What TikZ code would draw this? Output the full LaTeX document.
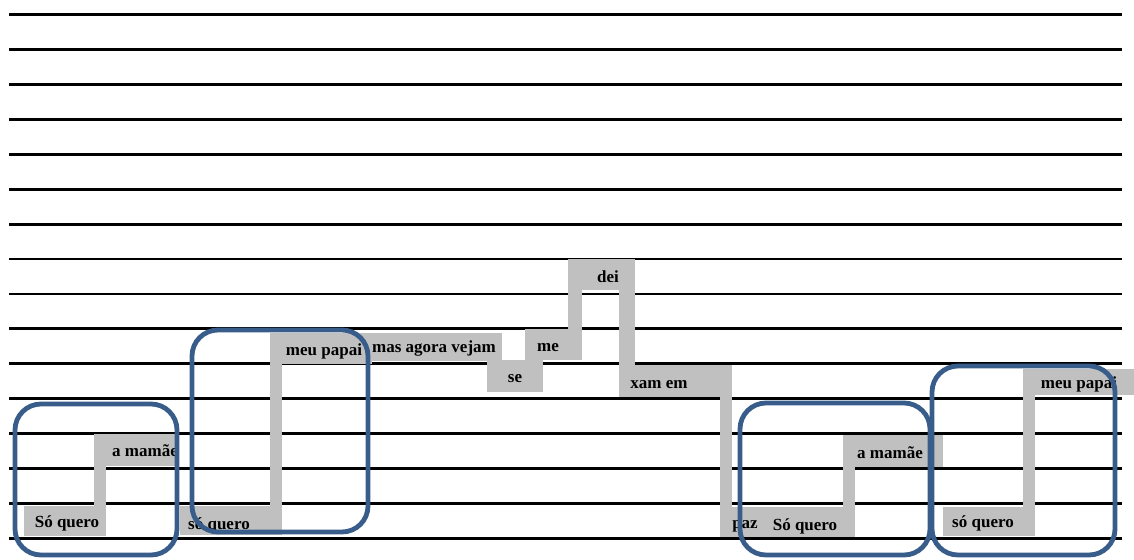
\documentclass[tikz,border=0pt]{standalone}
\usepackage{fontspec}
\setmainfont{Liberation Serif}
\usetikzlibrary{positioning}
\definecolor{bandgray}{RGB}{192,192,192}
\definecolor{frameblue}{RGB}{56,93,138}

\begin{document}
\begin{tikzpicture}[
  x=1pt, y=-1pt,
  staff/.style={line width=2.8pt, black},
  band/.style={fill=bandgray},
  word/.style={font=\fontsize{17}{19}\selectfont\bfseries, inner sep=0pt, anchor=base},
  frame/.style={draw=frameblue, line width=4.8pt, rounded corners=26pt}
]
\useasboundingbox (0,0) rectangle (1134,559);

% staff lines
\foreach \k in {0,...,15}
  \draw[staff] (9,{14.7+34.9*\k}) -- (1122,{14.7+34.9*\k});

% grey melody band
\fill[band] (24,506) rectangle (106,536);
\fill[band] (94,434) rectangle (106,506);
\fill[band] (94,434) rectangle (178,466);
\fill[band] (180,506) rectangle (282,535);
\fill[band] (270,333) rectangle (282,506);
\fill[band] (270,333) rectangle (372,364);
\fill[band] (368,333) rectangle (502,361);
\fill[band] (487,333) rectangle (502,391);
\fill[band] (487,360) rectangle (543,392);
\fill[band] (525,329) rectangle (582,360);
\fill[band] (568,259) rectangle (582,329);
\fill[band] (568,259) rectangle (635,290);
\fill[band] (619,290) rectangle (635,365);
\fill[band] (619,365) rectangle (732,397);
\fill[band] (720,397) rectangle (732,536);
\fill[band] (720,507) rectangle (855,537);
\fill[band] (843,435) rectangle (855,507);
\fill[band] (843,435) rectangle (943,467);
\fill[band] (943,507) rectangle (1035,536);
\fill[band] (1023,369) rectangle (1035,507);
\fill[band] (1023,369) rectangle (1134,395);

% lyrics
\node[word] (soquero1) at (67,527) {Só quero};
\node[word] (mamae1) at (145,456) {a mamãe};
\node[word] (soquero2) at (219,529) {só quero};
\node[word] (papai1) at (324,355) {meu papai};
\node[word] (vejam) at (434,352) {mas agora vejam};
\node[word] (se) at (515,382) {se};
\node[word] (me) at (548,351) {me};
\node[word] (dei) at (608,282) {dei};
\node[word] (xamem) at (659,388) {xam em};
\node[word] (paz) at (745,528) {paz};
\node[word] (soquero3) at (805,530) {Só quero};
\node[word] (mamae2) at (890,458) {a mamãe};
\node[word] (soquero4) at (983,527) {só quero};
\node[word] (papai2) at (1079,388) {meu papai};

% phrase frames
\draw[frame] (15,404) rectangle (177,555);
\draw[frame] (192,330) rectangle (368,532);
\draw[frame] (740,403) rectangle (930,555);
\draw[frame] (932,366) rectangle (1115,555);

\end{tikzpicture}
\end{document}
